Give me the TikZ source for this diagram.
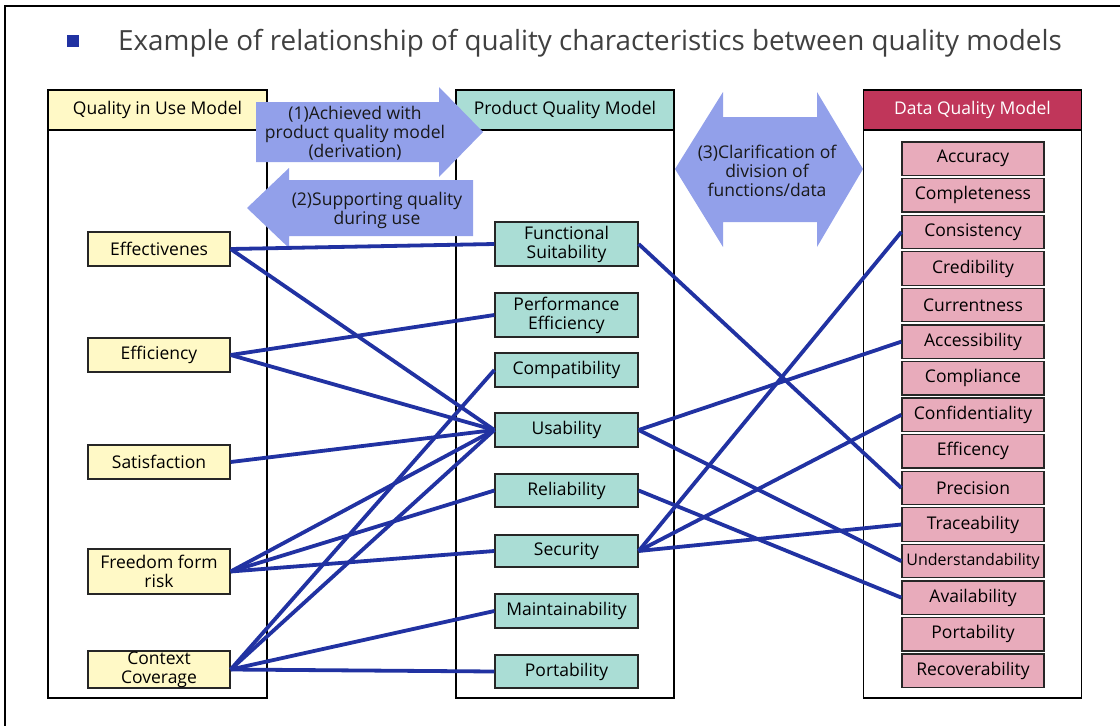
\documentclass[tikz,border=0pt]{standalone}
\usepackage{fontspec}
\setmainfont{Open Sans}
\usepackage{xcolor}
\usepackage{tikz}
\usetikzlibrary{positioning}
\definecolor{useyel}{RGB}{255,249,198}
\definecolor{prodteal}{RGB}{170,221,213}
\definecolor{datapink}{RGB}{232,171,187}
\definecolor{datared}{RGB}{192,54,90}
\definecolor{arrowblue}{RGB}{146,160,234}
\definecolor{linkblue}{RGB}{33,50,162}
\definecolor{titlegray}{RGB}{64,64,64}
\newcommand\boxfont{\fontsize{17.5}{19}\selectfont}
\newcommand\undfont{\fontsize{16}{17}\selectfont}
\tikzset{
  usebox/.style={rectangle, draw=black!85, line width=1.3pt, fill=useyel,
              minimum width=142pt, minimum height=34pt, inner sep=0pt,
              font=\boxfont, align=center},
  prodbox/.style={usebox, fill=prodteal, minimum width=143pt},
  databox/.style={usebox, fill=datapink, minimum height=33.5pt},
  colframe/.style={draw=black, line width=1.5pt},
  hdr/.style={rectangle, draw=black, line width=1.5pt, minimum width=219pt,
              minimum height=40pt, inner sep=0pt, font=\boxfont},
  bigarrow/.style={fill=arrowblue},
  arrowtxt/.style={font=\boxfont, align=center, inner sep=0pt, text=black!90},
  link/.style={draw=linkblue, line width=3.8pt}
}
\begin{document}
\begin{tikzpicture}[x=1pt, y=-1pt]
  \useasboundingbox (0,0) rectangle (1120,726);
  \draw[line width=2pt] (4.5,726) -- (4.5,5.5) -- (1120,5.5);
  % title
  \node[fill=linkblue, minimum size=12.5pt, inner sep=0pt] (bullet) at (73,41) {};
  \node[anchor=base west, inner sep=0pt, text=titlegray,
        font=\fontsize{27.8}{30}\selectfont] (title) at (118,50)
    {Example of relationship of quality characteristics between quality models};
  % columns
  \draw[colframe] (48,90) rectangle (267,698);
  \draw[colframe] (456,90) rectangle (674,698);
  \draw[colframe] (863.5,90) rectangle (1081.5,698);
  \node[hdr, fill=useyel] (hdrU) at (157.5,110) {Quality in Use Model};
  \node[hdr, fill=prodteal, minimum width=218pt] (hdrP) at (565,110) {};
  \node[hdr, fill=datared, text=white, minimum width=218pt] (hdrD) at (972.5,110)
    {Data Quality Model};
  % quality in use
  \node[usebox] (u-eff) at (159,249) {Effectivenes};
  \node[usebox] (u-efi) at (159,355) {Efficiency};
  \node[usebox] (u-sat) at (159,462) {Satisfaction};
  \node[usebox, minimum height=45pt] (u-fre) at (159,571.5) {Freedom form\\risk};
  \node[usebox, minimum height=37pt] (u-ctx) at (159,669.5) {Context\\Coverage};
  % product quality
  \node[prodbox, minimum height=44pt] (p-fun) at (566.5,244) {Functional\\Suitability};
  \node[prodbox, minimum height=44pt] (p-per) at (566.5,315) {Performance\\Efficiency};
  \node[prodbox] (p-cmp) at (566.5,370) {Compatibility};
  \node[prodbox] (p-usa) at (566.5,430) {Usability};
  \node[prodbox, minimum height=33pt] (p-rel) at (566.5,490.5) {Reliability};
  \node[prodbox, minimum height=32pt] (p-sec) at (566.5,551) {Security};
  \node[prodbox] (p-mai) at (566.5,611) {Maintainability};
  \node[prodbox, minimum height=33pt] (p-por) at (566.5,671.5) {Portability};
  % data quality
  \foreach \n/\t [count=\i from 0] in {acc/Accuracy, com/Completeness,
      con/Consistency, cre/Credibility, cur/Currentness, acs/Accessibility,
      cpl/Compliance, cnf/Confidentiality, efc/Efficency, pre/Precision,
      tra/Traceability, und/{\undfont Understandability}, ava/Availability,
      por/Portability, rec/Recoverability}
    \node[databox] (d-\n) at (973,{158.8+36.57*\i}) {\t};
  % big arrows
  \fill[bigarrow] (256,102) -- (439,102) -- (439,87) -- (483,132) -- (439,177)
    -- (439,162) -- (256,162) -- cycle;
  \fill[bigarrow] (473,180) -- (289,180) -- (289,168) -- (247,208) -- (289,248)
    -- (289,236) -- (473,236) -- cycle;
  \fill[bigarrow] (723,117) -- (817,117) -- (817,92) -- (863,169) -- (817,247)
    -- (817,222) -- (723,222) -- (723,247) -- (675,169) -- (723,92) -- cycle;
  \node[arrowtxt] (arr1) at (355,133) {(1)Achieved with\\product quality model\\(derivation)};
  \node[arrowtxt] (arr2) at (377,210) {(2)Supporting quality\\during use};
  \node[arrowtxt] (arr3) at (767,171) {(3)Clarification of\\division of\\functions/data};
  \node[font=\boxfont, inner sep=0pt] (hdrPlbl) at (hdrP) {Product Quality Model};
  % links
  \foreach \a/\b in {u-eff/p-fun, u-eff/p-usa, u-efi/p-per, u-efi/p-usa,
      u-sat/p-usa, u-fre/p-usa, u-fre/p-rel, u-fre/p-sec, u-ctx/p-cmp,
      u-ctx/p-usa, u-ctx/p-mai, u-ctx/p-por, p-fun/d-pre, p-usa/d-acs,
      p-usa/d-und, p-rel/d-ava, p-sec/d-con, p-sec/d-cnf, p-sec/d-tra}
    \draw[link] (\a.east) -- (\b.west);
\end{tikzpicture}
\end{document}
